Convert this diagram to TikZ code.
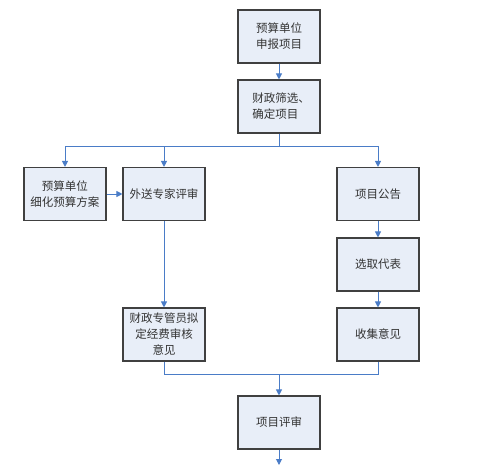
\documentclass[tikz,border=0pt]{standalone}
\usepackage{fontspec}
\setmainfont{Noto Sans CJK SC}
\usepackage{xcolor}
\usetikzlibrary{positioning,calc,arrows.meta}

\definecolor{boxfill}{HTML}{E8EEF8}
\definecolor{boxline}{HTML}{404040}
\definecolor{flowline}{HTML}{4A7CC7}

\begin{document}
\begin{tikzpicture}[x=1pt,y=-1pt,
		stepbox/.style={draw=boxline,line width=1.1pt,fill=boxfill,minimum width=82pt,minimum height=53pt,inner sep=0pt,align=center,font=\fontsize{11.5pt}{16pt}\selectfont,text=black!80},
		flow/.style={draw=flowline,line width=1pt,-{Triangle[width=6pt,length=6pt]}},
		link/.style={draw=flowline,line width=1pt}]
	\useasboundingbox (0,0) rectangle (483,466);
	
	% các ô của sơ đồ
	\node[stepbox] (apply)   at (279,36.5)  {预算单位\\申报项目};
	\node[stepbox,align=left] (screen)  at (279,106.5) {\hspace{4pt}财政筛选、\\\hspace{4pt}确定项目};
	\node[stepbox] (refine)  at (65,194)    {预算单位\\细化预算方案};
	\node[stepbox] (expert)  at (164,194)   {外送专家评审};
	\node[stepbox] (notice)  at (378,194)   {项目公告};
	\node[stepbox] (select)  at (378,264.5) {选取代表};
	\node[stepbox] (collect) at (378,334.5) {收集意见};
	\node[stepbox] (audit)   at (164,334.5) {财政专管员拟\\定经费审核\\意见};
	\node[stepbox] (review)  at (279,422.5) {项目评审};
	
	% điểm rẽ nhánh và điểm nhập
	\coordinate (split) at (279,146);
	\coordinate (merge) at (279,374);
	\coordinate (out)   at (279,465);
	
	\draw[flow] (apply) -- (screen);
	\draw[link] (screen) -- (split);
	\draw[link] (refine.north |- split) -- (notice.north |- split);
	\foreach \t in {refine,expert,notice} {
		\draw[flow] (\t.north |- split) -- (\t.north);
	}
	\draw[flow] (refine) -- (expert);
	\draw[flow] (expert) -- (audit);
	\draw[flow] (notice) -- (select);
	\draw[flow] (select) -- (collect);
	
	% nhập hai nhánh
	\draw[link] (audit.south) -- (audit.south |- merge) -- (collect.south |- merge) -- (collect.south);
	\draw[flow] (merge) -- (review);
	\draw[flow] (review) -- (out);
\end{tikzpicture}
\end{document}
